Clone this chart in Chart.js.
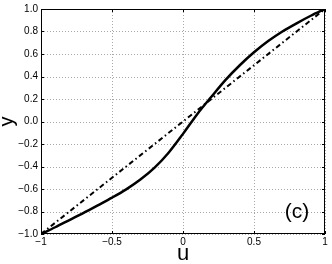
<!DOCTYPE html>
<html>
<head>
<meta charset="utf-8">
<script src="https://cdn.jsdelivr.net/npm/chart.js@4/dist/chart.umd.min.js"></script>
<style>
html,body{margin:0;padding:0;background:#fff;}
#wrap{width:332px;height:264px;position:relative;}
</style>
</head>
<body>
<div id="wrap"><canvas id="c" width="332" height="264"></canvas></div>
<script>
const uValues = [-1, -0.9, -0.8, -0.7, -0.6, -0.5, -0.4, -0.3, -0.2, -0.1, 0, 0.1, 0.2, 0.3, 0.4, 0.5, 0.6, 0.7, 0.8, 0.9, 1];
const solidY  = [-1, -0.94, -0.876, -0.812, -0.745, -0.677, -0.603, -0.516, -0.41, -0.275, -0.11, 0.065, 0.22, 0.37, 0.50, 0.615, 0.715, 0.80, 0.873, 0.94, 1];
const dashU = [-1, 1];
const dashY = [-1, 1];
const xTickValues = [-1, -0.5, 0, 0.5, 1];
const xTickLabels = ['\u22121', '\u22120.5', '0', '0.5', '1'];
const yTickValues = [-1, -0.8, -0.6, -0.4, -0.2, 0, 0.2, 0.4, 0.6, 0.8, 1];
const yTickLabels = ['\u22121.0', '\u22120.8', '\u22120.6', '\u22120.4', '\u22120.2', '0.0', '0.2', '0.4', '0.6', '0.8', '1.0'];
const xTitle = 'u';
const yTitle = 'y';
const panelLabel = '(c)';

const FONT = 'Liberation Sans, Arial, Helvetica, sans-serif';

const framePlugin = {
  id: 'frame',
  beforeDatasetsDraw(chart) {
    const {ctx, chartArea: a, scales} = chart;
    ctx.save();
    ctx.strokeStyle = '#a8a8a8';
    ctx.lineWidth = 1;
    ctx.setLineDash([1, 2]);
    ctx.beginPath();
    xTickValues.forEach(v => {
      const x = Math.round(scales.x.getPixelForValue(v)) + 0.5;
      ctx.moveTo(x, a.top); ctx.lineTo(x, a.bottom);
    });
    yTickValues.forEach(v => {
      const y = Math.round(scales.y.getPixelForValue(v)) + 0.5;
      ctx.moveTo(a.left, y); ctx.lineTo(a.right, y);
    });
    ctx.stroke();
    ctx.restore();
  },
  afterDraw(chart) {
    const {ctx, chartArea: a, scales} = chart;
    ctx.save();
    ctx.strokeStyle = '#000';
    ctx.lineWidth = 1;
    ctx.strokeRect(a.left + 0.5, a.top + 0.5, a.right - a.left - 1, a.bottom - a.top - 1);
    const tl = 3;
    ctx.beginPath();
    xTickValues.forEach(v => {
      const x = Math.round(scales.x.getPixelForValue(v)) + 0.5;
      ctx.moveTo(x, a.bottom); ctx.lineTo(x, a.bottom - tl);
      ctx.moveTo(x, a.top); ctx.lineTo(x, a.top + tl);
    });
    yTickValues.forEach(v => {
      const y = Math.round(scales.y.getPixelForValue(v)) + 0.5;
      ctx.moveTo(a.left, y); ctx.lineTo(a.left + tl, y);
      ctx.moveTo(a.right, y); ctx.lineTo(a.right - tl, y);
    });
    ctx.stroke();
    ctx.fillStyle = '#000';
    ctx.font = '21px ' + FONT;
    ctx.textAlign = 'center';
    ctx.textBaseline = 'alphabetic';
    ctx.fillText(panelLabel, 297, 218);
    ctx.restore();
  }
};

new Chart(document.getElementById('c'), {
  type: 'scatter',
  data: {
    datasets: [
      {
        data: uValues.map((u, i) => ({x: u, y: solidY[i]})),
        showLine: true,
        borderColor: '#000',
        borderWidth: 2.5,
        pointRadius: 0,
        cubicInterpolationMode: 'monotone',
        fill: false
      },
      {
        data: dashU.map((u, i) => ({x: u, y: dashY[i]})),
        showLine: true,
        borderColor: '#000',
        borderWidth: 2,
        borderDash: [5, 3, 1.5, 3],
        pointRadius: 0,
        fill: false
      }
    ]
  },
  options: {
    responsive: false,
    animation: false,
    layout: {padding: {top: 5, right: 7, left: 0, bottom: 0}},
    plugins: {legend: {display: false}, tooltip: {enabled: false}},
    scales: {
      x: {
        type: 'linear', min: -1, max: 1,
        afterBuildTicks(s) { s.ticks = xTickValues.map(v => ({value: v})); },
        afterFit(s) { s.height = 30; },
        ticks: {
          color: '#000', font: {family: FONT, size: 10}, padding: 2,
          maxRotation: 0, autoSkip: false,
          callback: (v, i) => xTickLabels[i]
        },
        grid: {display: false, drawTicks: false},
        border: {display: false},
        title: {display: true, text: xTitle, color: '#000', font: {family: FONT, size: 22, lineHeight: 1}, padding: {top: 0, bottom: -1}}
      },
      y: {
        type: 'linear', min: -1, max: 1,
        afterBuildTicks(s) { s.ticks = yTickValues.map(v => ({value: v})); },
        afterFit(s) { s.width = 41; },
        ticks: {
          color: '#000', font: {family: FONT, size: 10}, padding: 3,
          autoSkip: false,
          callback: (v, i) => yTickLabels[i]
        },
        grid: {display: false, drawTicks: false},
        border: {display: false},
        title: {display: true, text: yTitle, color: '#000', font: {family: FONT, size: 20, lineHeight: 1}, padding: {top: -3, bottom: 0}}
      }
    }
  },
  plugins: [framePlugin]
});
</script>
</body>
</html>
